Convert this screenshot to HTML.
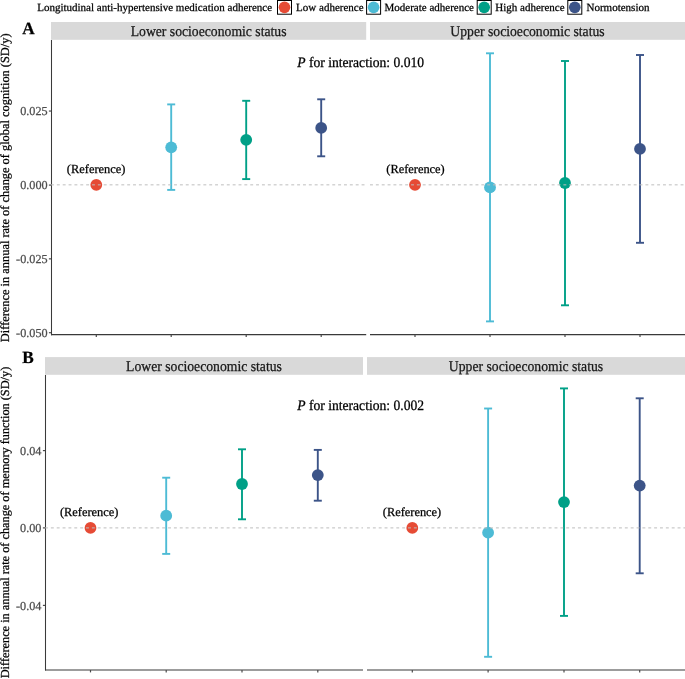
<!DOCTYPE html>
<html><head><meta charset="utf-8"><style>html,body{margin:0;padding:0;background:#fff;}svg{display:block;will-change:transform;text-rendering:geometricPrecision;}text{stroke-width:0.25px;}</style></head>
<body>
<svg width="685" height="679" viewBox="0 0 685 679">
<rect width="685" height="679" fill="#fff"/>
<text x="37.2" y="10.7" font-family="Liberation Serif, serif" font-size="11" fill="#000" stroke="#000" stroke-width="0.15">Longitudinal anti-hypertensive medication adherence</text>
<rect x="277.5" y="0.5" width="14" height="13.7" fill="#fff" stroke="#000" stroke-width="1"/>
<circle cx="284.5" cy="7.3" r="5.85" fill="#E64B35"/>
<text x="296.1" y="10.7" font-family="Liberation Serif, serif" font-size="11" fill="#000" stroke="#000" stroke-width="0.15">Low adherence</text>
<rect x="366.6" y="0.5" width="14" height="13.7" fill="#fff" stroke="#000" stroke-width="1"/>
<circle cx="373.6" cy="7.3" r="5.85" fill="#4DBBD5"/>
<text x="384.5" y="10.7" font-family="Liberation Serif, serif" font-size="11" fill="#000" stroke="#000" stroke-width="0.15">Moderate adherence</text>
<rect x="477.2" y="0.5" width="14" height="13.7" fill="#fff" stroke="#000" stroke-width="1"/>
<circle cx="484.2" cy="7.3" r="5.85" fill="#00A087"/>
<text x="495.3" y="10.7" font-family="Liberation Serif, serif" font-size="11" fill="#000" stroke="#000" stroke-width="0.15">High adherence</text>
<rect x="567.8" y="0.5" width="14" height="13.7" fill="#fff" stroke="#000" stroke-width="1"/>
<circle cx="574.8" cy="7.3" r="5.85" fill="#3C5488"/>
<text x="586.5" y="10.7" font-family="Liberation Serif, serif" font-size="11" fill="#000" stroke="#000" stroke-width="0.15">Normotension</text>
<text x="22.2" y="33.65" font-family="Liberation Serif, serif" font-size="17.2" fill="#000" stroke="#000" font-weight="bold">A</text>
<line x1="51.5" y1="40" x2="51.5" y2="335.2" stroke="#3a3a3a" stroke-width="1.05"/>
<line x1="48.9" y1="111.05" x2="51" y2="111.05" stroke="#4a4a4a" stroke-width="1.2"/>
<text x="47.6" y="115.05" font-family="Liberation Serif, serif" font-size="12.2" fill="#4D4D4D" stroke="#4D4D4D" text-anchor="end">0.025</text>
<line x1="48.9" y1="185.10" x2="51" y2="185.10" stroke="#4a4a4a" stroke-width="1.2"/>
<text x="47.6" y="189.10" font-family="Liberation Serif, serif" font-size="12.2" fill="#4D4D4D" stroke="#4D4D4D" text-anchor="end">0.000</text>
<line x1="48.9" y1="258.85" x2="51" y2="258.85" stroke="#4a4a4a" stroke-width="1.2"/>
<text x="47.6" y="262.85" font-family="Liberation Serif, serif" font-size="12.2" fill="#4D4D4D" stroke="#4D4D4D" text-anchor="end">-0.025</text>
<line x1="48.9" y1="332.70" x2="51" y2="332.70" stroke="#4a4a4a" stroke-width="1.2"/>
<text x="47.6" y="336.70" font-family="Liberation Serif, serif" font-size="12.2" fill="#4D4D4D" stroke="#4D4D4D" text-anchor="end">-0.050</text>
<text transform="translate(9.2,187.8) rotate(-90)" font-family="Liberation Serif, serif" font-size="12.38" fill="#000" stroke="#000" text-anchor="middle">Difference in annual rate of change of global cognition (SD/y)</text>
<text transform="translate(297.2,66.9) scale(1,1.06)" font-family="Liberation Serif, serif" font-size="13.6" fill="#000" stroke="#000"><tspan font-style="italic">P</tspan> for interaction: 0.010</text>
<rect x="51.0" y="22.0" width="315.2" height="17.799999999999997" fill="#D9D9D9"/>
<text transform="translate(208.6,35.7) scale(1,1.075)" font-family="Liberation Serif, serif" font-size="13.7" fill="#1A1A1A" stroke="#1A1A1A" text-anchor="middle">Lower socioeconomic status</text>
<line x1="51.0" y1="334.7" x2="366.2" y2="334.7" stroke="#3a3a3a" stroke-width="1.2"/>
<line x1="96.3" y1="334.7" x2="96.3" y2="337.09999999999997" stroke="#4a4a4a" stroke-width="1.2"/>
<line x1="171.2" y1="334.7" x2="171.2" y2="337.09999999999997" stroke="#4a4a4a" stroke-width="1.2"/>
<line x1="246.2" y1="334.7" x2="246.2" y2="337.09999999999997" stroke="#4a4a4a" stroke-width="1.2"/>
<line x1="321.2" y1="334.7" x2="321.2" y2="337.09999999999997" stroke="#4a4a4a" stroke-width="1.2"/>
<g stroke="#4DBBD5" stroke-width="1.9"><line x1="171.2" y1="104.4" x2="171.2" y2="189.9"/><line x1="167.2" y1="104.4" x2="175.2" y2="104.4"/><line x1="167.2" y1="189.9" x2="175.2" y2="189.9"/></g>
<g stroke="#00A087" stroke-width="1.9"><line x1="246.2" y1="100.8" x2="246.2" y2="179.1"/><line x1="242.2" y1="100.8" x2="250.2" y2="100.8"/><line x1="242.2" y1="179.1" x2="250.2" y2="179.1"/></g>
<g stroke="#3C5488" stroke-width="1.9"><line x1="321.2" y1="99.3" x2="321.2" y2="156.3"/><line x1="317.2" y1="99.3" x2="325.2" y2="99.3"/><line x1="317.2" y1="156.3" x2="325.2" y2="156.3"/></g>
<circle cx="96.3" cy="184.85" r="5.9" fill="#E64B35"/>
<circle cx="171.2" cy="147.3" r="5.9" fill="#4DBBD5"/>
<circle cx="246.2" cy="139.8" r="5.9" fill="#00A087"/>
<circle cx="321.2" cy="127.95" r="5.9" fill="#3C5488"/>
<line x1="51.0" y1="184.85" x2="366.2" y2="184.85" stroke="#BEBEBE" stroke-width="1" stroke-dasharray="2.93 2.93"/>
<text x="96.1" y="173.15" font-family="Liberation Serif, serif" font-size="12.4" fill="#000" stroke="#000" text-anchor="middle">(Reference)</text>
<rect x="370.0" y="22.0" width="315.0" height="17.799999999999997" fill="#D9D9D9"/>
<text transform="translate(527.5,35.7) scale(1,1.075)" font-family="Liberation Serif, serif" font-size="13.7" fill="#1A1A1A" stroke="#1A1A1A" text-anchor="middle">Upper socioeconomic status</text>
<line x1="370.0" y1="334.7" x2="685.0" y2="334.7" stroke="#3a3a3a" stroke-width="1.2"/>
<line x1="415.0" y1="334.7" x2="415.0" y2="337.09999999999997" stroke="#4a4a4a" stroke-width="1.2"/>
<line x1="490.0" y1="334.7" x2="490.0" y2="337.09999999999997" stroke="#4a4a4a" stroke-width="1.2"/>
<line x1="565.0" y1="334.7" x2="565.0" y2="337.09999999999997" stroke="#4a4a4a" stroke-width="1.2"/>
<line x1="640.0" y1="334.7" x2="640.0" y2="337.09999999999997" stroke="#4a4a4a" stroke-width="1.2"/>
<g stroke="#4DBBD5" stroke-width="1.9"><line x1="490.0" y1="53.3" x2="490.0" y2="321.4"/><line x1="486.0" y1="53.3" x2="494.0" y2="53.3"/><line x1="486.0" y1="321.4" x2="494.0" y2="321.4"/></g>
<g stroke="#00A087" stroke-width="1.9"><line x1="565.0" y1="61.0" x2="565.0" y2="305.3"/><line x1="561.0" y1="61.0" x2="569.0" y2="61.0"/><line x1="561.0" y1="305.3" x2="569.0" y2="305.3"/></g>
<g stroke="#3C5488" stroke-width="1.9"><line x1="640.0" y1="55.0" x2="640.0" y2="242.8"/><line x1="636.0" y1="55.0" x2="644.0" y2="55.0"/><line x1="636.0" y1="242.8" x2="644.0" y2="242.8"/></g>
<circle cx="415.0" cy="184.85" r="5.9" fill="#E64B35"/>
<circle cx="490.0" cy="187.4" r="5.9" fill="#4DBBD5"/>
<circle cx="565.0" cy="183.0" r="5.9" fill="#00A087"/>
<circle cx="640.0" cy="148.9" r="5.9" fill="#3C5488"/>
<line x1="370.0" y1="184.85" x2="685.0" y2="184.85" stroke="#BEBEBE" stroke-width="1" stroke-dasharray="2.93 2.93"/>
<text x="415.5" y="173.15" font-family="Liberation Serif, serif" font-size="12.4" fill="#000" stroke="#000" text-anchor="middle">(Reference)</text>
<text x="22.2" y="363.1" font-family="Liberation Serif, serif" font-size="17.2" fill="#000" stroke="#000" font-weight="bold">B</text>
<line x1="45.5" y1="375" x2="45.5" y2="670.6" stroke="#3a3a3a" stroke-width="1.05"/>
<line x1="42.9" y1="450.60" x2="45" y2="450.60" stroke="#4a4a4a" stroke-width="1.2"/>
<text x="41.4" y="454.90" font-family="Liberation Serif, serif" font-size="12.2" fill="#4D4D4D" stroke="#4D4D4D" text-anchor="end">0.04</text>
<line x1="42.9" y1="527.90" x2="45" y2="527.90" stroke="#4a4a4a" stroke-width="1.2"/>
<text x="41.4" y="532.20" font-family="Liberation Serif, serif" font-size="12.2" fill="#4D4D4D" stroke="#4D4D4D" text-anchor="end">0.00</text>
<line x1="42.9" y1="605.40" x2="45" y2="605.40" stroke="#4a4a4a" stroke-width="1.2"/>
<text x="41.4" y="609.70" font-family="Liberation Serif, serif" font-size="12.2" fill="#4D4D4D" stroke="#4D4D4D" text-anchor="end">-0.04</text>
<text transform="translate(9.2,522.5) rotate(-90)" font-family="Liberation Serif, serif" font-size="12.3" fill="#000" stroke="#000" text-anchor="middle">Difference in annual rate of change of memory function (SD/y)</text>
<text transform="translate(297.2,409.9) scale(1,1.06)" font-family="Liberation Serif, serif" font-size="13.6" fill="#000" stroke="#000"><tspan font-style="italic">P</tspan> for interaction: 0.002</text>
<rect x="45.0" y="357.1" width="318.0" height="17.69999999999999" fill="#D9D9D9"/>
<text transform="translate(204.0,370.7) scale(1,1.075)" font-family="Liberation Serif, serif" font-size="13.7" fill="#1A1A1A" stroke="#1A1A1A" text-anchor="middle">Lower socioeconomic status</text>
<line x1="45.0" y1="670.0" x2="363.0" y2="670.0" stroke="#3a3a3a" stroke-width="1.2"/>
<line x1="90.5" y1="670.0" x2="90.5" y2="672.4" stroke="#4a4a4a" stroke-width="1.2"/>
<line x1="166.2" y1="670.0" x2="166.2" y2="672.4" stroke="#4a4a4a" stroke-width="1.2"/>
<line x1="242.0" y1="670.0" x2="242.0" y2="672.4" stroke="#4a4a4a" stroke-width="1.2"/>
<line x1="317.8" y1="670.0" x2="317.8" y2="672.4" stroke="#4a4a4a" stroke-width="1.2"/>
<g stroke="#4DBBD5" stroke-width="1.9"><line x1="166.2" y1="477.7" x2="166.2" y2="553.9"/><line x1="162.2" y1="477.7" x2="170.2" y2="477.7"/><line x1="162.2" y1="553.9" x2="170.2" y2="553.9"/></g>
<g stroke="#00A087" stroke-width="1.9"><line x1="242.0" y1="449.3" x2="242.0" y2="519.3"/><line x1="238.0" y1="449.3" x2="246.0" y2="449.3"/><line x1="238.0" y1="519.3" x2="246.0" y2="519.3"/></g>
<g stroke="#3C5488" stroke-width="1.9"><line x1="317.8" y1="449.9" x2="317.8" y2="500.7"/><line x1="313.8" y1="449.9" x2="321.8" y2="449.9"/><line x1="313.8" y1="500.7" x2="321.8" y2="500.7"/></g>
<circle cx="90.5" cy="527.9" r="5.9" fill="#E64B35"/>
<circle cx="166.2" cy="515.7" r="5.9" fill="#4DBBD5"/>
<circle cx="242.0" cy="484.0" r="5.9" fill="#00A087"/>
<circle cx="317.8" cy="475.1" r="5.9" fill="#3C5488"/>
<line x1="45.0" y1="527.9" x2="363.0" y2="527.9" stroke="#BEBEBE" stroke-width="1" stroke-dasharray="2.93 2.93"/>
<text x="89.2" y="516.2" font-family="Liberation Serif, serif" font-size="12.4" fill="#000" stroke="#000" text-anchor="middle">(Reference)</text>
<rect x="367.0" y="357.1" width="318.0" height="17.69999999999999" fill="#D9D9D9"/>
<text transform="translate(526.0,370.7) scale(1,1.075)" font-family="Liberation Serif, serif" font-size="13.7" fill="#1A1A1A" stroke="#1A1A1A" text-anchor="middle">Upper socioeconomic status</text>
<line x1="367.0" y1="670.0" x2="685.0" y2="670.0" stroke="#3a3a3a" stroke-width="1.2"/>
<line x1="412.3" y1="670.0" x2="412.3" y2="672.4" stroke="#4a4a4a" stroke-width="1.2"/>
<line x1="488.1" y1="670.0" x2="488.1" y2="672.4" stroke="#4a4a4a" stroke-width="1.2"/>
<line x1="564.0" y1="670.0" x2="564.0" y2="672.4" stroke="#4a4a4a" stroke-width="1.2"/>
<line x1="639.7" y1="670.0" x2="639.7" y2="672.4" stroke="#4a4a4a" stroke-width="1.2"/>
<g stroke="#4DBBD5" stroke-width="1.9"><line x1="488.1" y1="408.5" x2="488.1" y2="656.8"/><line x1="484.1" y1="408.5" x2="492.1" y2="408.5"/><line x1="484.1" y1="656.8" x2="492.1" y2="656.8"/></g>
<g stroke="#00A087" stroke-width="1.9"><line x1="564.0" y1="388.4" x2="564.0" y2="615.9"/><line x1="560.0" y1="388.4" x2="568.0" y2="388.4"/><line x1="560.0" y1="615.9" x2="568.0" y2="615.9"/></g>
<g stroke="#3C5488" stroke-width="1.9"><line x1="639.7" y1="398.3" x2="639.7" y2="573.3"/><line x1="635.7" y1="398.3" x2="643.7" y2="398.3"/><line x1="635.7" y1="573.3" x2="643.7" y2="573.3"/></g>
<circle cx="412.3" cy="527.9" r="5.9" fill="#E64B35"/>
<circle cx="488.1" cy="532.7" r="5.9" fill="#4DBBD5"/>
<circle cx="564.0" cy="502.1" r="5.9" fill="#00A087"/>
<circle cx="639.7" cy="485.6" r="5.9" fill="#3C5488"/>
<line x1="367.0" y1="527.9" x2="685.0" y2="527.9" stroke="#BEBEBE" stroke-width="1" stroke-dasharray="2.93 2.93"/>
<text x="412.0" y="516.2" font-family="Liberation Serif, serif" font-size="12.4" fill="#000" stroke="#000" text-anchor="middle">(Reference)</text>
</svg>
</body></html>
